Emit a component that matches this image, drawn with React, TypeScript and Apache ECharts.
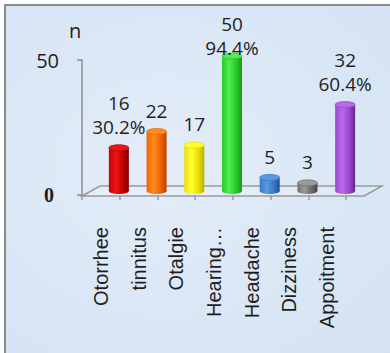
import React, { useEffect, useRef } from "react";
import * as echarts from "echarts";

// Complaints and the number of patients reporting each one
const categories = ["Otorrhee", "tinnitus", "Otalgie", "Hearing…", "Headache", "Dizziness", "Appoitment"];
const counts = [16, 22, 17, 50, 5, 3, 32];
const percents: (number | null)[] = [30.2, null, null, 94.4, null, null, 60.4];
const yTicks = [0, 50];

// Cylinder shading: [edge tone, highlight, shadow side]
const barShades: [string, string, string][] = [
  ["#c80000", "#e81818", "#7a0000"],
  ["#f06400", "#ff8a20", "#b84400"],
  ["#e8e000", "#ffff30", "#b8b000"],
  ["#28c828", "#50f050", "#1a9a1a"],
  ["#3a78c8", "#5a98e0", "#24508a"],
  ["#6e6e6e", "#9a9a9a", "#404040"],
  ["#9a48d0", "#b86ae8", "#62288a"],
];

// oblique depth of the 3-D floor
const DEPTH_X = 18;
const DEPTH_Y = 9;
const LABEL_LINE = 24;
const LABEL_MIN_TOP = 12;

export default function App() {
  const ref = useRef<HTMLDivElement>(null);

  useEffect(() => {
    if (!ref.current) return;
    const chart = echarts.init(ref.current, null, { renderer: "svg" });

    const floorSeries = {
      type: "custom",
      z: 1,
      silent: true,
      data: [0],
      renderItem: (params: any) => {
        const cs = params.coordSys;
        const bottom = cs.y + cs.height;
        const left = cs.x;
        const right = cs.x + cs.width;
        return {
          type: "polygon",
          shape: {
            points: [
              [left, bottom + 1],
              [left + DEPTH_X, bottom - DEPTH_Y],
              [right + DEPTH_X * 2, bottom - DEPTH_Y],
              [right + DEPTH_X, bottom + 1],
            ],
          },
          style: { fill: "rgba(255,255,255,0.15)", stroke: "#9a9a9a", lineWidth: 1.5 },
        };
      },
    };

    const barSeries = {
      type: "custom",
      z: 5,
      data: counts.map((v, i) => [i, v]),
      renderItem: (params: any, api: any) => {
        const i = api.value(0);
        const v = api.value(1);
        const top = api.coord([i, v]);
        const base = api.coord([i, 0]);
        const w = api.size([1, 0])[0] * 0.53;
        const cx = top[0] + DEPTH_X;
        const yTop = top[1] - 4;
        const yBase = base[1] - 4;
        const rx = w / 2;
        const ry = 3;
        const [c0, c1, c2] = barShades[i];
        const grad = new echarts.graphic.LinearGradient(0, 0, 1, 0, [
          { offset: 0, color: c0 },
          { offset: 0.35, color: c1 },
          { offset: 0.7, color: c0 },
          { offset: 1, color: c2 },
        ]);
        const pct = percents[i];
        const lines = pct == null ? [String(v)] : [String(v), `${pct.toFixed(1)}%`];
        // keep the label block inside the chart: tall bars push it down onto the bar
        const labelBottom = Math.max(yTop - 9, LABEL_MIN_TOP + lines.length * LABEL_LINE);
        return {
          type: "group",
          children: [
            {
              type: "ellipse",
              shape: { cx, cy: yBase, rx, ry },
              style: { fill: grad },
            },
            {
              type: "rect",
              shape: { x: cx - rx, y: yTop, width: w, height: yBase - yTop },
              style: { fill: grad },
            },
            {
              type: "ellipse",
              shape: { cx, cy: yTop, rx, ry },
              style: { fill: c1, stroke: c0, lineWidth: 0.8 },
            },
            {
              type: "text",
              z2: 10,
              style: {
                text: lines.join("\n"),
                x: cx,
                y: labelBottom,
                align: "center",
                verticalAlign: "bottom",
                fontFamily: "Open Sans",
                fontSize: 19,
                lineHeight: LABEL_LINE,
                fill: "#1e1e1e",
              },
            },
          ],
        };
      },
    };

    chart.setOption({
      animation: false,
      backgroundColor: "transparent",
      grid: { left: 82, right: 44, top: 60, bottom: 158 },
      xAxis: {
        type: "category",
        data: categories,
        axisLine: { show: false },
        axisTick: { show: true, length: 5, lineStyle: { color: "#9a9a9a", width: 1.5 } },
        axisLabel: {
          interval: 0,
          rotate: 90,
          margin: 32,
          fontFamily: "Liberation Sans",
          fontSize: 20,
          color: "#1e1e1e",
        },
      },
      yAxis: {
        type: "value",
        min: yTicks[0],
        max: yTicks[yTicks.length - 1],
        interval: yTicks[1] - yTicks[0],
        name: "n",
        nameLocation: "end",
        nameGap: 20,
        nameTextStyle: {
          fontFamily: "Open Sans",
          fontSize: 20,
          color: "#1e1e1e",
          align: "center",
          padding: [0, 14, 0, 0],
        },
        splitLine: { show: false },
        axisLine: { show: true, lineStyle: { color: "#8c8c8c", width: 1.5 } },
        axisTick: { show: true, length: 5, lineStyle: { color: "#8c8c8c", width: 1.5 } },
        axisLabel: {
          margin: 23,
          formatter: (v: number) => (v === 0 ? `{z|${v}}` : `{f|${v}}`),
          rich: {
            z: { fontFamily: "Liberation Serif", fontWeight: "bold", fontSize: 20, color: "#1e1e1e", padding: [0, 5, 0, 0] },
            f: { fontFamily: "Open Sans", fontSize: 20, color: "#1e1e1e" },
          },
        },
      },
      series: [floorSeries, barSeries],
    });

    return () => chart.dispose();
  }, []);

  return (
    <div style={{ position: "fixed", left: 0, top: 0, width: 390, height: 353, background: "#ffffff" }}>
      <div
        style={{
          position: "absolute",
          left: 4,
          top: 4,
          width: 400,
          height: 360,
          borderLeft: "2px solid #8a8a8a",
          borderTop: "2px solid #8a8a8a",
          background: "radial-gradient(ellipse at 40% 45%, #e4edf9 0%, #d9e6f5 60%, #d3e1f2 100%)",
        }}
      />
      <div ref={ref} style={{ position: "absolute", left: 0, top: 0, width: 390, height: 353 }} />
    </div>
  );
}
